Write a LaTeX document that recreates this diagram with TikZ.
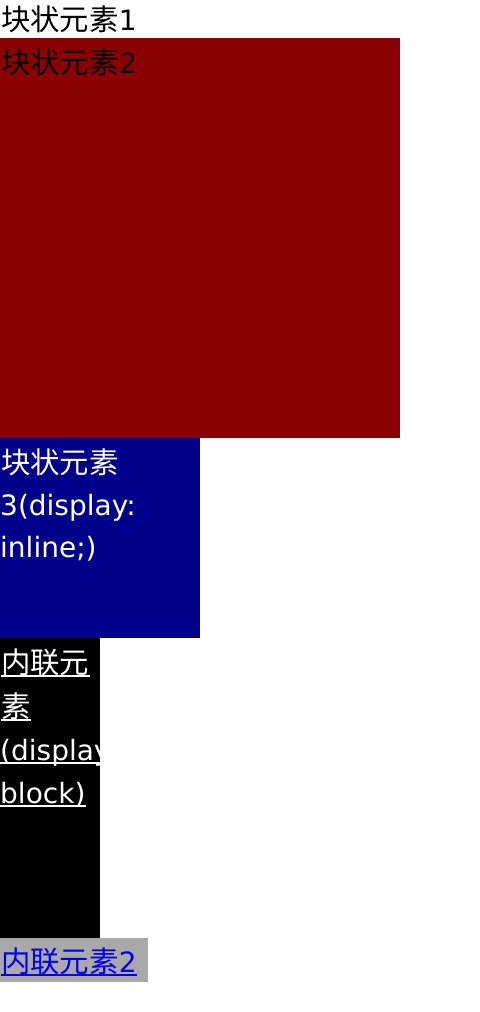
\documentclass[tikz,border=0pt]{standalone}
\usepackage{fontspec}
\setmainfont{DejaVu Sans}
\newfontfamily\cjk[Scale=1.05]{Noto Sans CJK SC}
\usetikzlibrary{calc}
\definecolor{dred}{HTML}{8B0000}
\definecolor{dblue}{HTML}{00008B}
\definecolor{dgray}{HTML}{A9A9A9}
\definecolor{link}{HTML}{0000EE}
\begin{document}
\begin{tikzpicture}[x=1bp,y=-1bp,
  txt/.style={anchor=base west, inner sep=0pt, font=\fontsize{28bp}{34bp}\selectfont},
  box/.style={anchor=north west, inner sep=0pt, draw=none},
  uline/.style={line width=1.6bp}]
\useasboundingbox (0,0) rectangle (480,1012);
\fill[white] (0,0) rectangle (480,1012);
% block 1
\node[txt] (t1) at (1,30) {{\cjk 块状元素}1};
% red block
\node[box, fill=dred, minimum width=400bp, minimum height=400bp] (red) at (0,38) {};
\node[txt, text=black] (t2) at (1,73) {{\cjk 块状元素}2};
% blue block
\node[box, fill=dblue, minimum width=200bp, minimum height=200bp] (blue) at (0,438) {};
\node[txt, text=white] (b1) at (1,473) {{\cjk 块状元素}};
\node[txt, text=white] (b2) at (0,515) {3(display:};
\node[txt, text=white] (b3) at (0,557) {inline;)};
% black block
\node[box, fill=black, minimum width=100bp, minimum height=300bp] (blk) at (0,638) {};
\begin{scope}
\clip (0,638) rectangle (100,938);
\node[txt, text=white] (k1) at (1,673) {{\cjk 内联元}};
\node[txt, text=white] (k2) at (1,717) {{\cjk 素}};
\node[txt, text=white] (k3) at (0,760) {(display:};
\node[txt, text=white] (k4) at (0,803) {block)};
\foreach \n in {k1,k2,k3,k4}
  \draw[white, uline] ($(\n.base west)+(0,3)$) -- ($(\n.base east)+(0,3)$);
\end{scope}
% gray inline
\node[box, fill=dgray, minimum width=148bp, minimum height=44bp] (gry) at (0,938) {};
\node[txt, text=link] (g1) at (1,972) {{\cjk 内联元素}2};
\draw[link, uline] ($(g1.base west)+(0,3)$) -- ($(g1.base east)+(0,3)$);
\end{tikzpicture}
\end{document}
